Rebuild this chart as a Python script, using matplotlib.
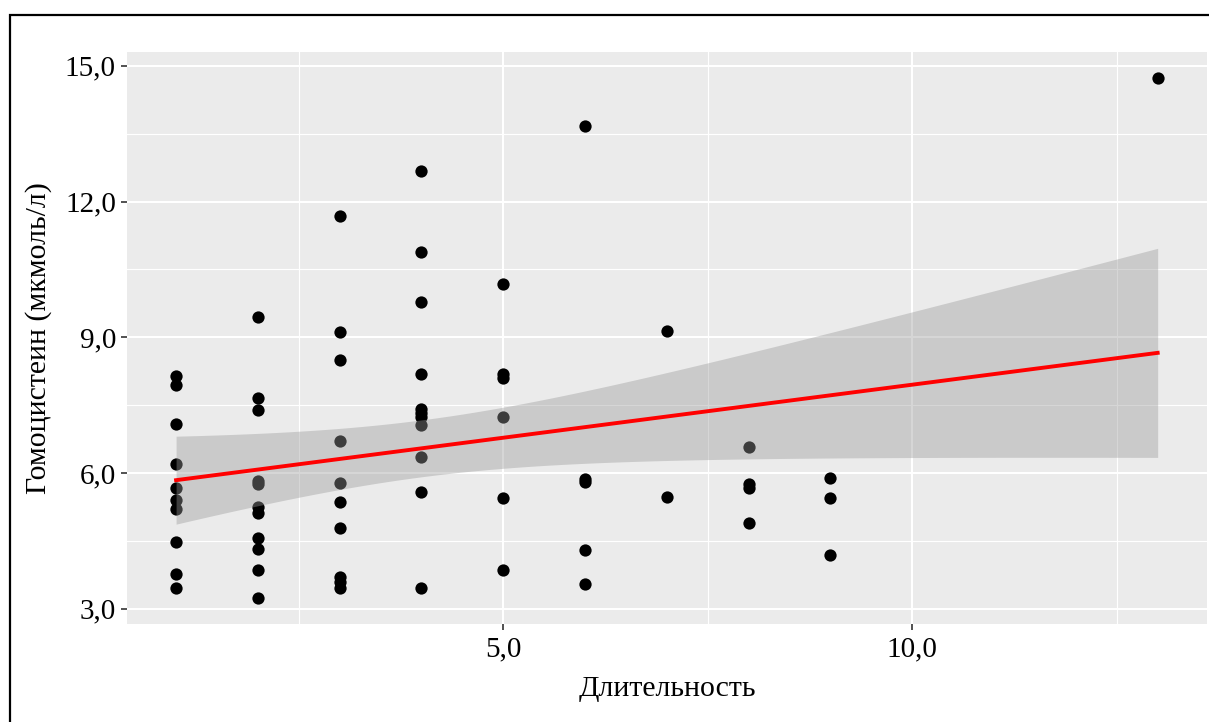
import numpy as np
import matplotlib
matplotlib.use("Agg")
import matplotlib.pyplot as plt
from matplotlib.patches import Rectangle
from matplotlib.ticker import FixedLocator, FuncFormatter

# ---- data ----
x_vals = ([1] * 10 + [2] * 11 + [3] * 10 + [4] * 11 + [5] * 6 +
          [6] * 5 + [7] * 2 + [8] * 4 + [9] * 3 + [13] * 1)
y_vals = [
    # x = 1
    8.15, 7.94, 7.08, 6.19, 5.68, 5.40, 5.20, 4.47, 3.78, 3.46,
    # x = 2
    9.44, 7.65, 7.39, 5.83, 5.77, 5.24, 5.11, 4.57, 4.32, 3.86, 3.24,
    # x = 3
    11.69, 9.11, 8.50, 6.70, 5.78, 5.37, 4.78, 3.71, 3.59, 3.46,
    # x = 4
    12.68, 10.89, 9.77, 8.19, 7.41, 7.32, 7.24, 7.07, 6.35, 5.58, 3.47,
    # x = 5
    10.18, 8.20, 8.10, 7.24, 5.44, 3.85,
    # x = 6
    13.68, 5.87, 5.81, 4.30, 3.55,
    # x = 7
    9.13, 5.48,
    # x = 8
    6.57, 5.76, 5.68, 4.89,
    # x = 9
    5.90, 5.46, 4.20,
    # x = 13
    14.73,
]
x_major = [5.0, 10.0]
x_minor = [2.5, 7.5, 12.5]
y_major = [3.0, 6.0, 9.0, 12.0, 15.0]
y_minor = [4.5, 7.5, 10.5, 13.5]
x_title = "Длительность"
y_title = "Гомоцистеин (мкмоль/л)"

x = np.asarray(x_vals, float)
y = np.asarray(y_vals, float)

# ---- linear fit with 95% CI (like geom_smooth(method = "lm")) ----
n = len(x)
b1, b0 = np.polyfit(x, y, 1)
resid = y - (b0 + b1 * x)
df = n - 2
s = np.sqrt(np.sum(resid ** 2) / df)
z = 1.959963985
t_crit = z + (z ** 3 + z) / (4 * df) + (5 * z ** 5 + 16 * z ** 3 + 3 * z) / (96 * df ** 2)
xs = np.linspace(x.min(), x.max(), 80)
ys = b0 + b1 * xs
se = s * np.sqrt(1 / n + (xs - x.mean()) ** 2 / np.sum((x - x.mean()) ** 2))
lo, hi = ys - t_crit * se, ys + t_crit * se

# ---- figure ----
plt.rcParams['font.family'] = ['Liberation Serif', 'DejaVu Serif']
W, H = 1209, 722
fig = plt.figure(figsize=(W / 100, H / 100), dpi=100)
fig.patch.set_facecolor("white")

left_px, top_px, bottom_px = 127, 52, 624
xspan = x.max() - x.min()
xlim = (x.min() - 0.05 * xspan, x.max() + 0.05 * xspan)
yspan = y.max() - y.min()
ylim = (y.min() - 0.05 * yspan, y.max() + 0.05 * yspan)
px_per_unit = 81.8
right_px = left_px + (xlim[1] - xlim[0]) * px_per_unit
ax = fig.add_axes([left_px / W, 1 - bottom_px / H,
                   (right_px - left_px) / W, (bottom_px - top_px) / H])
ax.set_facecolor("#EBEBEB")
ax.set_xlim(*xlim)
ax.set_ylim(*ylim)
for sp in ax.spines.values():
    sp.set_visible(False)

ax.xaxis.set_major_locator(FixedLocator(x_major))
ax.xaxis.set_minor_locator(FixedLocator(x_minor))
ax.yaxis.set_major_locator(FixedLocator(y_major))
ax.yaxis.set_minor_locator(FixedLocator(y_minor))
fmt = FuncFormatter(lambda v, p: f"{v:.1f}".replace(".", ","))
ax.xaxis.set_major_formatter(fmt)
ax.yaxis.set_major_formatter(fmt)
ax.grid(which="major", color="white", linewidth=1.5)
ax.grid(which="minor", color="white", linewidth=0.8)
ax.set_axisbelow(True)
ax.tick_params(which="major", length=4, width=1.2, color="#333333",
               labelsize=21, labelcolor="black")
ax.tick_params(axis="x", which="major", pad=5)
ax.tick_params(axis="y", which="major", pad=4)
ax.tick_params(which="minor", length=0)

ax.scatter(x, y, s=78, color="black", zorder=3, linewidths=0)
ax.fill_between(xs, lo, hi, color="#999999", alpha=0.4, linewidth=0, zorder=4)
ax.plot(xs, ys, color="red", linewidth=2.8, zorder=5)

ax.set_xlabel(x_title, fontsize=21.5, labelpad=10)
ax.set_ylabel(y_title, fontsize=21.5, labelpad=9)

# frame around the figure (cropped at right and bottom)
fig.patches.append(Rectangle((10 / W, -0.1), 1.2, 1 - 15 / H + 0.1,
                             transform=fig.transFigure, fill=False,
                             edgecolor="black", linewidth=1.6))

fig.savefig("out.png", dpi=100)
